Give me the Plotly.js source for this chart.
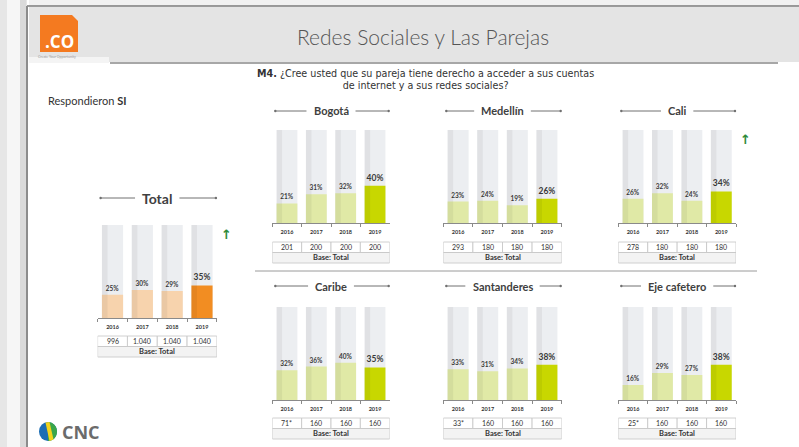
<!DOCTYPE html>
<html><head><meta charset="utf-8">
<script src="https://cdn.plot.ly/plotly-3.0.1.min.js"></script>
<style>html,body{margin:0;padding:0;background:#fff}#chart{width:799px;height:447px}</style>
</head><body><div id="chart"></div>
<script>
// ---------- data ----------
const years = ['2016','2017','2018','2019'];
const panelNames = ['Total','Bogotá','Medellín','Cali','Caribe','Santanderes','Eje cafetero'];
const totalVals = [25,30,29,35];
const bogotaVals = [21,31,32,40];
const medellinVals = [23,24,19,26];
const caliVals = [26,32,24,34];
const caribeVals = [32,36,40,35];
const santanderesVals = [33,31,34,38];
const ejeVals = [16,29,27,38];
const totalBase = ['996','1.040','1.040','1.040'];
const bogotaBase = ['201','200','200','200'];
const medellinBase = ['293','180','180','180'];
const caliBase = ['278','180','180','180'];
const caribeBase = ['71*','160','160','160'];
const santanderesBase = ['33*','160','160','160'];
const ejeBase = ['25*','160','160','160'];
const fullScale = [100,100,100,100];
const trendUp = [true,false,false,true,false,false,false];
const baseLabel = 'Base: Total';
const headerTitle = 'Redes Sociales y Las Parejas';
const question = '<b>M4.</b> ¿Cree usted que su pareja tiene derecho a acceder a sus cuentas<br>de internet y a sus redes sociales?';
const respondents = 'Respondieron <b>SI</b>';

const panelVals = [totalVals,bogotaVals,medellinVals,caliVals,caribeVals,santanderesVals,ejeVals];
const panelBase = [totalBase,bogotaBase,medellinBase,caliBase,caribeBase,santanderesBase,ejeBase];

// ---------- layout geometry (pixels) ----------
const W = 799, H = 447;
const px = v => v / W;
const py = v => 1 - v / H;
const cols = [[272.3,389.7],[443.3,561.7],[618.3,736]];
const topRow = {top:130, base:223, title:111, table:242};
const botRow = {top:307, base:400, title:286, table:418};
const geo = [
  {x:[97.6,216.9], top:225, base:318, title:198, table:336, tsize:14},
  {x:cols[0], ...topRow, tsize:11},
  {x:cols[1], ...topRow, tsize:11},
  {x:cols[2], ...topRow, tsize:11},
  {x:cols[0], ...botRow, tsize:11},
  {x:cols[1], ...botRow, tsize:11},
  {x:cols[2], ...botRow, tsize:11}
];
const rowH = 10.5;

const FONT = 'Lato, "Open Sans", sans-serif';
const ctx = document.createElement('canvas').getContext('2d');
function textW(t, size){ ctx.font = 'bold ' + size + 'px Lato'; return ctx.measureText(t).width; }

const traces = [];
const layout = {
  width: W, height: H, margin:{l:0,r:0,t:0,b:0},
  paper_bgcolor:'#ffffff', plot_bgcolor:'rgba(0,0,0,0)',
  showlegend:false, barmode:'overlay', font:{family:FONT},
  shapes:[], annotations:[]
};
const S = layout.shapes, A = layout.annotations;
function note(x,y,text,font,extra){ A.push(Object.assign({xref:'paper',yref:'paper',x:px(x),y:py(y),text:text,showarrow:false,xanchor:'center',yanchor:'middle',font:font},extra||{})); }

// ---------- page frame ----------
function rect(x0,y0,x1,y1,fill,line){ S.push({type:'rect',xref:'paper',yref:'paper',x0:px(x0),x1:px(x1),y0:py(y1),y1:py(y0),fillcolor:fill,line:line||{width:0},layer:'below'}); }
function seg(x0,y0,x1,y1,color,w){ S.push({type:'line',xref:'paper',yref:'paper',x0:px(x0),x1:px(x1),y0:py(y0),y1:py(y1),line:{color:color,width:w}}); }
function poly(pts,fill){ S.push({type:'path',xref:'paper',yref:'paper',path:'M '+pts.map(p=>px(p[0])+','+py(p[1])).join(' L ')+' Z',fillcolor:fill,line:{width:0}}); }

rect(0,0,27,447,'#e6e6e6');
rect(7,0,20,447,'#f6f6f6');
rect(20,0,26,447,'#dadada');
rect(29,0,799,6,'#f1f1f1');
rect(29,7,799,62,'#e4e4e4');
rect(29,57,109,63,'#f4f4f4');
seg(27,6,799,6,'#7a7a7a',1.5);
seg(27,6,27,447,'#8c8c8c',2);
seg(110,63,778,63,'#8a8a8a',1.5);
seg(255,271,757,271,'#9a9a9a',1);

// logo .CO
poly([[40,15],[72,15],[78,21],[78,52],[40,52]],'#f47a20');
note(59,41,'<b>.CO</b>',{family:'"Open Sans", sans-serif',size:17,color:'#ffffff'});
note(57,57,'Create Your Opportunity',{size:3.5,color:'#9a9a9a'});

// CNC logo
S.push({type:'circle',xref:'paper',yref:'paper',x0:px(39),x1:px(57),y0:py(441),y1:py(422),fillcolor:'#1b6db4',line:{width:0}});
S.push({type:'path',xref:'paper',yref:'paper',
  path:'M '+px(48)+','+py(422)+' C '+px(53.2)+','+py(422)+' '+px(57)+','+py(426.5)+' '+px(57)+','+py(431.5)+' C '+px(57)+','+py(437)+' '+px(53.2)+','+py(441)+' '+px(48)+','+py(441)+' Z',
  fillcolor:'#3aa64a',line:{width:0}});
poly([[45.5,422.5],[49.5,422],[53.5,439.5],[49.5,441]],'#f2d31b');
note(60,432,'<b>CNC</b>',{family:'"Open Sans", sans-serif',size:18,color:'#6b6b6b'},{xanchor:'left'});

// header texts
note(423,36,headerTitle,{family:'Lato, sans-serif',size:21,color:'#555555',weight:300});
note(425,79,question,{family:'"DejaVu Sans", sans-serif',size:9.6,color:'#333333'},{align:'center'});
note(46,101,respondents,{family:FONT,size:11,color:'#333333'},{xanchor:'left'});

// ---------- panels ----------
panelNames.forEach((name,i)=>{
  const g = geo[i];
  const n = i===0 ? '' : String(i+1);
  const xa = 'x'+n, ya = 'y'+n;
  const isTotal = i===0;
  const light = isTotal ? '#f7d3ad' : '#e0e9a6';
  const strong = isTotal ? '#f28d22' : '#c8d700';
  const vals = panelVals[i];

  traces.push({type:'bar',x:years,y:fullScale,xaxis:xa,yaxis:ya,width:0.71,
    marker:{color:'#eceef1',line:{width:0}},hoverinfo:'skip'});
  traces.push({type:'bar',x:years,y:vals,xaxis:xa,yaxis:ya,width:0.71,
    marker:{color:years.map((y,k)=>k===3?strong:light),line:{width:0}},
    texttemplate:'<b>%{y}%</b>',textposition:'outside',constraintext:'none',cliponaxis:false,
    textfont:{family:FONT,size:years.map((y,k)=>k===3?8.5:6.5),color:'#3a3a3a'},hoverinfo:'skip'});
  traces.push({type:'bar',x:years,y:fullScale,xaxis:xa,yaxis:ya,width:0.19,offset:-0.355,
    marker:{color:'rgba(0,0,0,0.05)',line:{width:0}},hoverinfo:'skip'});

  layout['xaxis'+n] = {domain:[px(g.x[0]),px(g.x[1])],anchor:ya,type:'category',range:[-0.5,3.5],
    tickvals:years,ticktext:years.map(y=>'<b>'+y+'</b>'),tickfont:{family:FONT,size:5.5,color:'#333'},
    showline:true,linecolor:'#8a8a8a',linewidth:1,ticks:'outside',tickson:'boundaries',ticklen:3,tickcolor:'#8a8a8a',
    ticklabelstandoff:3,showgrid:false,zeroline:false,fixedrange:true};
  layout['yaxis'+n] = {domain:[py(g.base),py(g.top)],anchor:xa,range:[0,100],visible:false,fixedrange:true};

  // title with side rules
  const cx = (g.x[0]+g.x[1])/2;
  const tw = textW(name,g.tsize);
  note(cx,g.title,'<b>'+name+'</b>',{family:FONT,size:g.tsize,color:'#404040'});
  const l0 = g.x[0]+3, l1 = cx-tw/2-7, r0 = cx+tw/2+7, r1 = g.x[1]-1;
  seg(l0,g.title,l1,g.title,'#707070',1);
  seg(r0,g.title,r1,g.title,'#707070',1);
  [l0,r1].forEach(d=>S.push({type:'circle',xref:'paper',yref:'paper',x0:px(d-1.2),x1:px(d+1.2),y0:py(g.title+1.2),y1:py(g.title-1.2),fillcolor:'#707070',line:{width:0}}));

  // base table
  const t0 = g.table, t1 = g.table+rowH, t2 = g.table+2*rowH;
  panelBase[i].forEach((b,k)=>{
    S.push({type:'rect',xref:xa,yref:'paper',x0:k-0.5,x1:k+0.5,y0:py(t1),y1:py(t0),fillcolor:'#ffffff',line:{color:'#c4c4c4',width:0.8}});
    A.push({xref:xa,yref:'paper',x:k,y:py((t0+t1)/2),xanchor:'center',yanchor:'middle',text:b,showarrow:false,font:{family:FONT,size:7,color:'#333'}});
  });
  S.push({type:'rect',xref:xa,yref:'paper',x0:-0.5,x1:3.5,y0:py(t2),y1:py(t1),fillcolor:'#f3f3f3',line:{color:'#c4c4c4',width:0.8}});
  A.push({xref:xa,yref:'paper',x:1.5,y:py((t1+t2)/2),xanchor:'center',yanchor:'middle',text:'<b>'+baseLabel+'</b>',showarrow:false,font:{family:FONT,size:7.5,color:'#333'}});

  if (trendUp[i]) {
    note(g.x[1]+9.5,g.top+9,'<b>↑</b>',{family:'"DejaVu Sans", sans-serif',size:13,color:'#2e8b3a'});
  }
});

Plotly.newPlot('chart',traces,layout,{displayModeBar:false,staticPlot:true});
</script></body></html>
